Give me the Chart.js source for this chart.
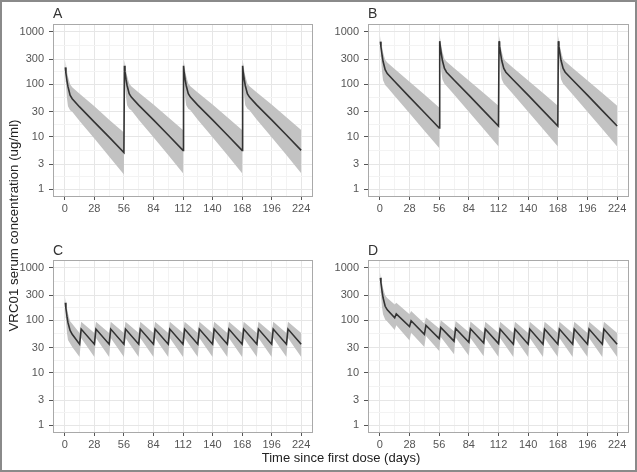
<!DOCTYPE html>
<html>
<head>
<meta charset="utf-8">
<script src="https://cdn.jsdelivr.net/npm/chart.js@4/dist/chart.umd.min.js"></script>
<style>
html,body{margin:0;padding:0;background:#fff;}
#wrap{position:relative;width:637px;height:472px;overflow:hidden;font-family:"Liberation Sans",Arial,sans-serif;background:#fff;}
#frame{position:absolute;left:0;top:0;width:637px;height:472px;box-sizing:border-box;border:2px solid #8a8a8a;pointer-events:none;z-index:5;}
canvas{position:absolute;}
.plab{position:absolute;font-size:14px;line-height:14px;color:#333;}
#xt{position:absolute;left:0;width:682px;text-align:center;font-size:13px;line-height:13px;color:#222;top:451px;}
#yt{position:absolute;width:420px;left:-197px;top:219px;text-align:center;font-size:13.3px;line-height:13px;color:#222;transform:rotate(-90deg);transform-origin:50% 50%;}
</style>
</head>
<body>
<div id="wrap">
  <canvas id="cA" width="320" height="225" style="left:0px;top:0px;width:320px;height:225px"></canvas>
  <canvas id="cB" width="320" height="225" style="left:315px;top:0px;width:320px;height:225px"></canvas>
  <canvas id="cC" width="320" height="225" style="left:0px;top:236px;width:320px;height:225px"></canvas>
  <canvas id="cD" width="320" height="225" style="left:315px;top:236px;width:320px;height:225px"></canvas>
  <div class="plab" style="left:53px;top:6px">A</div>
  <div class="plab" style="left:368px;top:6px">B</div>
  <div class="plab" style="left:53px;top:243px">C</div>
  <div class="plab" style="left:368px;top:243px">D</div>
  <div id="xt">Time since first dose (days)</div>
  <div id="yt">VRC01 serum concentration (ug/ml)</div>
  <div id="frame"></div>
</div>
<script>
// ---------- tick definitions ----------
const yTickVals   = [1, 3, 10, 30, 100, 300, 1000];
const yTickLabels = ['1', '3', '10', '30', '100', '300', '1000'];
const yMinorVals  = [1.732, 5.477, 17.32, 54.77, 173.2, 547.7];
const xTickVals   = [0, 28, 56, 84, 112, 140, 168, 196, 224];
const xTickLabels = ['0', '28', '56', '84', '112', '140', '168', '196', '224'];
const xMinorVals  = [14, 42, 70, 98, 126, 154, 182, 210];

// ---------- Panel A ----------
const timesA = [0.5,1,2,3,5,7,14,28,42,56,
                56.5,57,58,59,61,63,70,84,98,112,
                112.5,113,114,115,117,119,126,140,154,168,
                168.5,169,170,171,173,175,182,196,210,224];
const medA = [210,165,118,90,62,53,37,19,9.8,5.0,
              225,175,125,95,66,57,40,21,10.8,5.5,
              225,175,125,95,66,57,40,21,10.8,5.5,
              225,175,125,95,66,57,40,21,10.8,5.5];
const loA  = [165,110,55,38,32,30,20,9.2,4.2,1.9,
              175,115,58,40,34,32,21,9.8,4.5,2.0,
              175,115,58,40,34,32,21,9.8,4.5,2.0,
              175,115,58,40,34,32,21,9.8,4.5,2.0];
const hiA  = [285,250,180,140,100,88,66,38,21,12,
              290,255,185,145,104,92,70,41,23.5,13.5,
              290,255,185,145,104,92,70,41,23.5,13.5,
              290,255,185,145,104,92,70,41,23.5,13.5];

// ---------- Panel B ----------
const timesB = timesA;
const medB = [650,520,370,275,190,160,113,57,29,14.7,
              665,535,385,287,200,170,121,62,31.5,16,
              665,535,385,287,200,170,121,62,31.5,16,
              665,535,385,287,200,170,121,62,31.5,16];
const loB  = [520,330,175,120,97,88,60,28,13,6.1,
              530,340,182,125,102,93,64,30,14,6.5,
              530,340,182,125,102,93,64,30,14,6.5,
              530,340,182,125,102,93,64,30,14,6.5];
const hiB  = [830,720,530,410,295,260,195,112,64,36,
              840,730,540,420,305,272,205,118,68,39,
              840,730,540,420,305,272,205,118,68,39,
              840,730,540,420,305,272,205,118,68,39];

// ---------- Panel C ----------
const timesC = [0.5,1,2,3,5,7,14, 15.5,28, 29.5,42, 43.5,56, 57.5,70, 71.5,84, 85.5,98,
                99.5,112, 113.5,126, 127.5,140, 141.5,154, 155.5,168, 169.5,182, 183.5,196,
                197.5,210, 211.5,224];
const medC = [216,170,120,90,64,54,35, 68,35, 68,35, 68,35, 68,35, 68,35, 68,35,
              68,35, 68,35, 68,35, 68,35, 68,35, 68,35, 68,35,
              68,35, 68,35];
const loC  = [165,110,58,42,36,31,20, 46,20, 46,20, 46,20, 46,20, 46,20, 46,20,
              46,20, 46,20, 46,20, 46,20, 46,20, 46,20, 46,20,
              46,20, 46,20];
const hiC  = [275,245,175,135,96,86,57, 94,57, 94,57, 94,57, 94,57, 94,57, 94,57,
              94,57, 94,57, 94,57, 94,57, 94,57, 94,57, 94,57,
              94,57, 94,57];

// ---------- Panel D ----------
const timesD = timesC;
const medD = [645,520,365,272,185,158,112, 133,76, 98,54, 80,45, 73,40, 70,38, 69,37,
              68,36, 68,35, 68,35, 68,35, 68,35, 68,35, 68,35,
              68,35, 68,35];
const loD  = [500,330,180,130,104,95,65, 80,41, 58,31, 50,26, 48,22.5, 47,21, 46,20.5,
              46,20, 46,20, 46,20, 46,20, 46,20, 46,20, 46,20,
              46,20, 46,20];
const hiD  = [820,720,525,410,300,265,200, 215,130, 150,87, 113,70, 100,62, 97,59, 95,58,
              94,57, 94,57, 94,57, 94,57, 94,57, 94,57, 94,57,
              94,57, 94,57];

// ---------- drawing ----------
const borderPlugin = {
  id: 'panelBorder',
  afterDraw(chart) {
    const {ctx, chartArea: a} = chart;
    ctx.save();
    ctx.strokeStyle = '#a9a9a9';
    ctx.lineWidth = 1;
    ctx.strokeRect(Math.round(a.left) + 0.5, Math.round(a.top) + 0.5,
                   Math.round(a.right - a.left) - 1, Math.round(a.bottom - a.top) - 1);
    ctx.restore();
  }
};

function pts(t, v) { return t.map((x, i) => ({x: x, y: v[i]})); }

function makePanel(id, t, med, lo, hi, padRight) {
  new Chart(document.getElementById(id), {
    type: 'line',
    data: {
      datasets: [
        {data: pts(t, med), borderColor: '#333333', borderWidth: 1.6, pointRadius: 0, fill: false, tension: 0},
        {data: pts(t, hi), borderColor: 'rgba(0,0,0,0)', borderWidth: 0, pointRadius: 0, fill: '+1', backgroundColor: '#c2c2c2', tension: 0},
        {data: pts(t, lo), borderColor: 'rgba(0,0,0,0)', borderWidth: 0, pointRadius: 0, fill: false, tension: 0}
      ]
    },
    options: {
      responsive: false,
      animation: false,
      events: [],
      layout: {padding: {left: 0, right: padRight, top: 24, bottom: 8}},
      plugins: {legend: {display: false}, tooltip: {enabled: false}},
      scales: {
        x: {
          type: 'linear', min: -11.2, max: 235.2, bounds: 'data',
          afterBuildTicks: s => {
            s.ticks = xTickVals.map(v => ({value: v}))
              .concat(xMinorVals.map(v => ({value: v, mn: true})))
              .sort((a, b) => a.value - b.value);
          },
          afterFit: s => { s.height = 20; },
          border: {display: false},
          grid: {
            color: c => (c.tick && c.tick.mn) ? '#f3f3f3' : '#e6e6e6',
            tickColor: c => (c.tick && c.tick.mn) ? 'rgba(0,0,0,0)' : '#555',
            tickLength: 3, lineWidth: 1, drawTicks: true
          },
          ticks: {
            autoSkip: false, maxRotation: 0, padding: 2, color: '#555',
            font: {family: 'Liberation Sans', size: 11},
            callback: (v, i, ticks) => ticks[i].mn ? '' : xTickLabels[xTickVals.indexOf(v)]
          }
        },
        y: {
          type: 'logarithmic', min: 0.708, max: 1413, bounds: 'data',
          afterBuildTicks: s => {
            s.ticks = yTickVals.map(v => ({value: v}))
              .concat(yMinorVals.map(v => ({value: v, mn: true})))
              .sort((a, b) => a.value - b.value);
          },
          afterFit: s => { s.width = 53; },
          border: {display: false},
          grid: {
            color: c => (c.tick && c.tick.mn) ? '#f3f3f3' : '#e6e6e6',
            tickColor: c => (c.tick && c.tick.mn) ? 'rgba(0,0,0,0)' : '#555',
            tickLength: 4, lineWidth: 1, drawTicks: true
          },
          ticks: {
            autoSkip: false, padding: 5, color: '#555',
            font: {family: 'Liberation Sans', size: 11},
            callback: (v, i, ticks) => ticks[i].mn ? '' : yTickLabels[yTickVals.indexOf(v)]
          }
        }
      }
    },
    plugins: [borderPlugin]
  });
}

makePanel('cA', timesA, medA, loA, hiA, 7);
makePanel('cB', timesB, medB, loB, hiB, 6);
makePanel('cC', timesC, medC, loC, hiC, 7);
makePanel('cD', timesD, medD, loD, hiD, 6);
</script>
</body>
</html>
